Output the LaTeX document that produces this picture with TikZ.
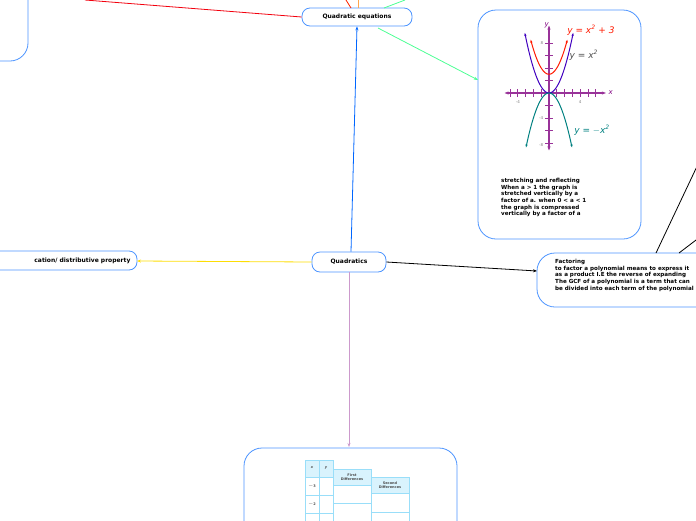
\documentclass[tikz,border=0pt]{standalone}
\usepackage{fontspec}
\setmainfont{DejaVu Sans}
\usetikzlibrary{arrows.meta}
\begin{document}
\begin{tikzpicture}[x=1pt,y=-1pt,
  box/.style={draw=blue!60!cyan!70,line width=0.8pt,rounded corners=18pt},
  pill/.style={draw=blue!60!cyan!70,line width=0.8pt,rounded corners=8pt,font=\bfseries\fontsize{6}{7}\selectfont,align=center},
  txt/.style={font=\bfseries\fontsize{5.6}{6.7}\selectfont,align=left,anchor=north west,inner sep=0pt},
  arr/.style={-{Stealth[length=4pt,width=3pt]},line width=0.8pt}]
\useasboundingbox (0,0) rectangle (696,520);
% top-left box
\draw[box] (-30,-30) rectangle (28,61);
% Quadratic equations
\node[pill,minimum width=110pt,minimum height=18pt] (qe) at (357,17) {Quadratic equations};
\coordinate (rl) at (85,0);
\draw[red!80!purple,line width=0.8pt] (rl) -- (qe.west);
\draw[red!70!orange,line width=0.8pt] (351,8) -- (346,0);
\draw[orange!70,line width=0.8pt] (358,8) -- (358,0);
\draw[green!60!cyan!70,line width=0.8pt] (384,8) -- (405,0);
% graph box
\draw[box] (478,10) rectangle (641,239);
\coordinate (gb) at (478,80);
\draw[arr,green!60!cyan!70] (378,28) -- (gb);
\begin{scope}[shift={(549,93)},x=7.8pt,y=6.25pt]
  \draw[violet!80,line width=1.6pt,<->,>={Stealth[length=4pt]}] (-5.7,0) -- (7.3,0);
  \draw[violet!80,line width=1.6pt,<->,>={Stealth[length=4pt]}] (0,-9.2) -- (0,10.8);
  \foreach \i in {-5,...,-1,1,2,...,6} \draw[violet!80,line width=0.8pt] (\i,-0.6) -- (\i,0.6);
  \foreach \j in {-8,-6,-4,-2,2,4,6,8} \draw[violet!80,line width=0.8pt] (-0.5,\j) -- (0.5,\j);
  \draw[red!80!orange,line width=1pt,<->,>={Stealth[length=3pt]}] plot[domain=-2.35:2.35,samples=40] (\x,{\x*\x+3});
  \draw[blue!50!violet,line width=1pt,<->,>={Stealth[length=3pt]}] plot[domain=-3.1:3.1,samples=40] (\x,{\x*\x});
  \draw[teal,line width=1pt,<->,>={Stealth[length=3pt]}] plot[domain=-2.95:2.95,samples=40] (\x,{-\x*\x});
  \node[font=\fontsize{4}{4}\selectfont,text=gray] at (-4,-1.4) {-4};
  \node[font=\fontsize{4}{4}\selectfont,text=gray] at (4,-1.4) {4};
  \node[font=\fontsize{4}{4}\selectfont,text=gray] at (-0.9,8) {8};
  \node[font=\fontsize{4}{4}\selectfont,text=gray] at (-1,-4) {-4};
  \node[font=\fontsize{4}{4}\selectfont,text=gray] at (-1,-8.3) {-8};
  \node[font=\rmfamily\itshape\fontsize{7}{7}\selectfont,text=violet] at (7.9,0) {x};
  \node[font=\rmfamily\itshape\fontsize{7}{7}\selectfont,text=violet] at (-0.3,10.9) {y};
  \node[font=\rmfamily\itshape\fontsize{9}{9}\selectfont,text=red!80!orange,anchor=west] at (1.9,10) {y = x\textsuperscript{2} + 3};
  \node[font=\rmfamily\itshape\fontsize{9}{9}\selectfont,text=black!70,anchor=west] at (2.2,6) {y = x\textsuperscript{2}};
  \node[font=\rmfamily\itshape\fontsize{9}{9}\selectfont,text=teal,anchor=west] at (2.8,-6) {y = $-$x\textsuperscript{2}};
\end{scope}
\node[txt] at (501,178) {stretching and reflecting\\When a > 1 the graph is\\stretched vertically by a\\factor of a. when  0 < a < 1\\the graph is compressed\\vertically by a factor of a};
% Quadratics
\node[pill,minimum width=74pt,minimum height=20pt] (q) at (349,262) {Quadratics};
\draw[arr,blue!60!cyan] (q.north) ++(2,0) -- (qe.south);
% left node
\draw[pill] (-20,251) rectangle (137,270);
\coordinate (ln) at (137,261);
\node[font=\bfseries\fontsize{6}{7}\selectfont,anchor=east] at (134,261) {cation/ distributive property};
\draw[arr,yellow!80!orange] (q.west) -- (ln);
% factoring
\draw[box] (537,253) rectangle (740,307);
\coordinate (fb) at (537,271);
\node[txt] at (555,259) {Factoring\\to factor a polynomial means to express it\\as a product I.E the reverse of expanding\\The GCF of a polynomial is a term that can\\be divided into each term of the polynomial};
\draw[arr] (q.east) -- (fb);
\draw[line width=0.8pt] (656,253) -- (700,160);
\draw[line width=0.8pt] (679,253) -- (700,237);
% bottom
\draw[box] (244,448) rectangle (457,560);
\coordinate (bb) at (349,447);
\draw[arr,violet!40] (q.south) -- (bb);
\begin{scope}[every node/.style={font=\bfseries\fontsize{3.5}{4}\selectfont,text=black!70,align=center,inner sep=0pt}]
  \fill[cyan!15] (305,460) rectangle (333,477);
  \fill[cyan!15] (333,469) rectangle (371,485);
  \fill[cyan!15] (371,477) rectangle (409,493);
  \draw[cyan!40,line width=0.5pt] (305,460) rectangle (319,530) (319,460) rectangle (333,530);
  \draw[cyan!40,line width=0.5pt] (333,469) rectangle (371,530) (371,477) rectangle (409,530);
  \draw[cyan!40,line width=0.5pt] (305,477) -- (333,477) (305,495) -- (333,495) (305,513) -- (333,513);
  \draw[cyan!40,line width=0.5pt] (333,485) -- (371,485) (333,503) -- (371,503);
  \draw[cyan!40,line width=0.5pt] (371,493) -- (409,493) (371,512) -- (409,512);
  \node at (312,468) {\itshape x}; \node at (326,468) {\itshape y};
  \node at (352,477) {First\\Differences};
  \node at (390,485) {Second\\Differences};
  \node at (312,486) {$-$3}; \node at (312,504) {$-$2};
\end{scope}
\end{tikzpicture}
\end{document}
